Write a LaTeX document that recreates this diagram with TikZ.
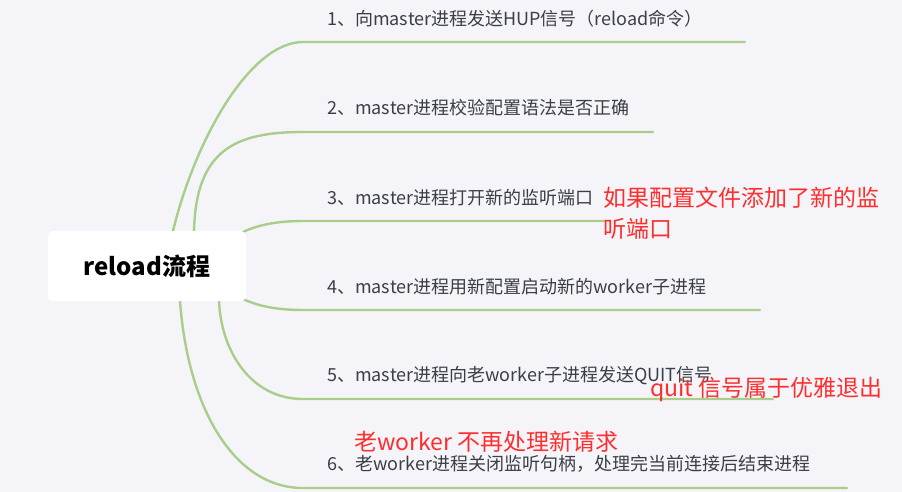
\documentclass[tikz,border=0pt]{standalone}
\usepackage{fontspec}
\setmainfont{Noto Sans CJK SC}
\usepackage{xcolor}
\definecolor{bgcol}{HTML}{F5F5F9}
\definecolor{branchcol}{HTML}{A9CE8B}
\definecolor{itemcol}{HTML}{3A3F45}
\definecolor{notecol}{HTML}{FF2E2E}
\tikzset{
  branch/.style={draw=branchcol, line width=2.4pt, line cap=round},
  item/.style={anchor=west, inner sep=0pt, text=itemcol, font=\fontsize{18}{22}\selectfont},
  remark/.style={anchor=west, inner sep=0pt, text=notecol, font=\fontsize{23}{31}\selectfont, align=left}
}

\begin{document}
\begin{tikzpicture}[x=1pt, y=-1pt]
% reload流程 mind map
\fill[bgcol] (0,0) rectangle (902,492);
\useasboundingbox (0,0) rectangle (902,492);

\coordinate (S1) at (173,231);
\coordinate (S2) at (194,231);
\coordinate (S3) at (243,232);
\coordinate (S4) at (243,299);
\coordinate (S5) at (219,301);
\coordinate (S6) at (180,301);
\coordinate (B1) at (303,42);
\coordinate (B2) at (303,132);
\coordinate (B3) at (303,221);
\coordinate (B4) at (303,310);
\coordinate (B5) at (303,399);
\coordinate (B6) at (303,488);
\coordinate (E1) at (745,42);
\coordinate (E2) at (653,132);
\coordinate (E3) at (605,221);
\coordinate (E4) at (760,310);
\coordinate (E5) at (773,399);
\coordinate (E6) at (847,488);

\draw[branch] (S1) .. controls (195,140) and (250,42) .. (B1) -- (E1);
\draw[branch] (S2) .. controls (196,150) and (235,132) .. (B2) -- (E2);
\draw[branch] (S3) .. controls (260,224) and (280,221) .. (B3) -- (E3);
\draw[branch] (S4) .. controls (260,307) and (280,310) .. (B4) -- (E4);
\draw[branch] (S5) .. controls (221,350) and (250,399) .. (B5) -- (E5);
\draw[branch] (S6) .. controls (188,410) and (235,488) .. (B6) -- (E6);

\node[fill=white, rounded corners=5pt, minimum width=198pt, minimum height=70pt, inner sep=0pt,
  font=\bfseries\fontsize{24}{28}\selectfont, text=black] (root) at (147,266) {reload流程};

\node[item] (step1) at (327,19) {1、向master进程发送HUP信号（reload命令）};
\node[item] (step2) at (327,108) {2、master进程校验配置语法是否正确};
\node[item] (step3) at (327,198) {3、master进程打开新的监听端口};
\node[item] (step4) at (327,287) {4、master进程用新配置启动新的worker子进程};
\node[item] (step5) at (327,376) {5、master进程向老worker子进程发送QUIT信号};
\node[item] (step6) at (327,464) {6、老worker进程关闭监听句柄，处理完当前连接后结束进程};

\node[remark] (note3) at (603,213.5) {如果配置文件添加了新的监\\听端口};
\node[remark] (note5) at (650,389) {quit 信号属于优雅退出};
\node[remark] (note6) at (354,442) {老worker 不再处理新请求};
\end{tikzpicture}
\end{document}
